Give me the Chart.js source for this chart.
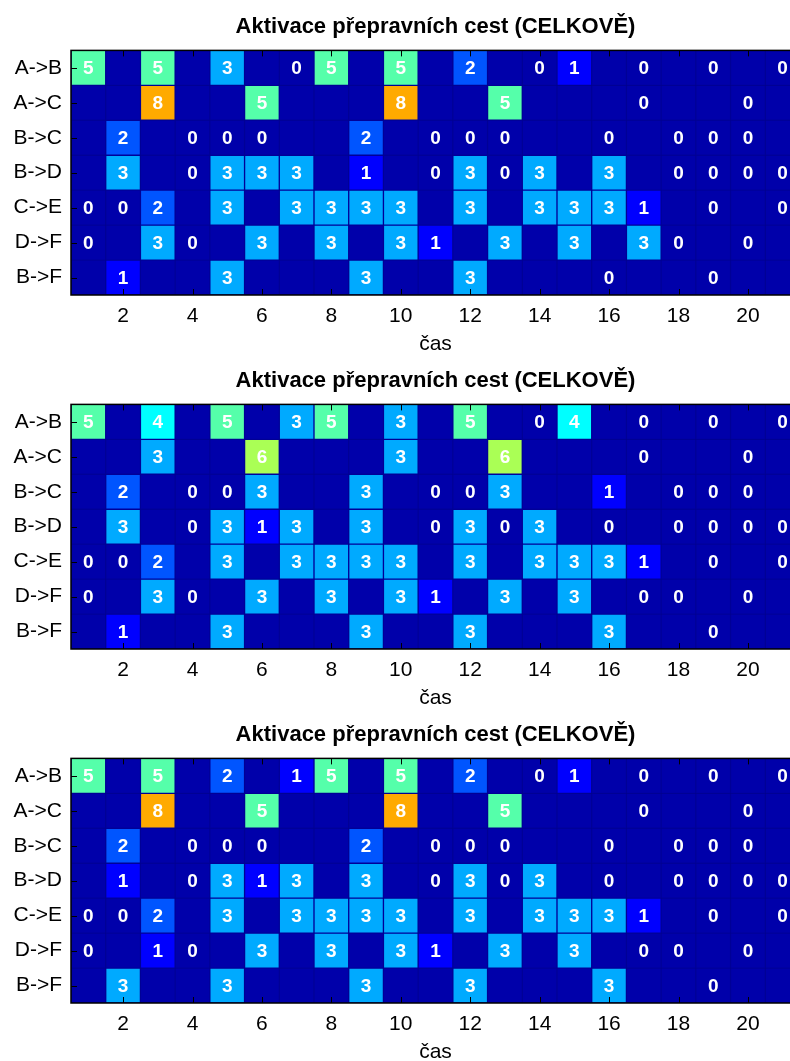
<!DOCTYPE html>
<html lang="cs">
<head>
<meta charset="utf-8">
<title>Aktivace přepravních cest</title>
<script src="https://cdn.jsdelivr.net/npm/chart.js@4.4.1/dist/chart.umd.min.js"></script>
<style>
  html, body { margin: 0; padding: 0; background: #fff; overflow: hidden; }
  .panel { width: 802px; height: 354px; }
  canvas { display: block; }
</style>
</head>
<body>
<div class="panel"><canvas id="g1" width="802" height="354"></canvas></div>
<div class="panel"><canvas id="g2" width="802" height="354"></canvas></div>
<div class="panel"><canvas id="g3" width="802" height="354"></canvas></div>
<script>
// popisky a osy
const titleText = "Aktivace přepravních cest (CELKOVĚ)";
const xTitle = "čas";
const routes = ["A->B", "A->C", "B->C", "B->D", "C->E", "D->F", "B->F"];
const times = [1, 2, 3, 4, 5, 6, 7, 8, 9, 10, 11, 12, 13, 14, 15, 16, 17, 18, 19, 20, 21];
const xTicks = [2, 4, 6, 8, 10, 12, 14, 16, 18, 20];

// barvy podle hodnoty 0..8 (jet)
const palette = ["#0000aa", "#0000ff", "#0055ff", "#00aaff", "#00ffff", "#55ffaa", "#aaff55", "#ffff00", "#ffaa00"];

const _ = null; // prázdná buňka

// hodnoty: řádek = cesta, sloupec = čas
const panel1 = [
    [5, _, 5, _, 3, _, 0, 5, _, 5, _, 2, _, 0, 1, _, 0, _, 0, _, 0],
    [_, _, 8, _, _, 5, _, _, _, 8, _, _, 5, _, _, _, 0, _, _, 0, _],
    [_, 2, _, 0, 0, 0, _, _, 2, _, 0, 0, 0, _, _, 0, _, 0, 0, 0, _],
    [_, 3, _, 0, 3, 3, 3, _, 1, _, 0, 3, 0, 3, _, 3, _, 0, 0, 0, 0],
    [0, 0, 2, _, 3, _, 3, 3, 3, 3, _, 3, _, 3, 3, 3, 1, _, 0, _, 0],
    [0, _, 3, 0, _, 3, _, 3, _, 3, 1, _, 3, _, 3, _, 3, 0, _, 0, _],
    [_, 1, _, _, 3, _, _, _, 3, _, _, 3, _, _, _, 0, _, _, 0, _, _]
];
const panel2 = [
    [5, _, 4, _, 5, _, 3, 5, _, 3, _, 5, _, 0, 4, _, 0, _, 0, _, 0],
    [_, _, 3, _, _, 6, _, _, _, 3, _, _, 6, _, _, _, 0, _, _, 0, _],
    [_, 2, _, 0, 0, 3, _, _, 3, _, 0, 0, 3, _, _, 1, _, 0, 0, 0, _],
    [_, 3, _, 0, 3, 1, 3, _, 3, _, 0, 3, 0, 3, _, 0, _, 0, 0, 0, 0],
    [0, 0, 2, _, 3, _, 3, 3, 3, 3, _, 3, _, 3, 3, 3, 1, _, 0, _, 0],
    [0, _, 3, 0, _, 3, _, 3, _, 3, 1, _, 3, _, 3, _, 0, 0, _, 0, _],
    [_, 1, _, _, 3, _, _, _, 3, _, _, 3, _, _, _, 3, _, _, 0, _, _]
];
const panel3 = [
    [5, _, 5, _, 2, _, 1, 5, _, 5, _, 2, _, 0, 1, _, 0, _, 0, _, 0],
    [_, _, 8, _, _, 5, _, _, _, 8, _, _, 5, _, _, _, 0, _, _, 0, _],
    [_, 2, _, 0, 0, 0, _, _, 2, _, 0, 0, 0, _, _, 0, _, 0, 0, 0, _],
    [_, 1, _, 0, 3, 1, 3, _, 3, _, 0, 3, 0, 3, _, 0, _, 0, 0, 0, 0],
    [0, 0, 2, _, 3, _, 3, 3, 3, 3, _, 3, _, 3, 3, 3, 1, _, 0, _, 0],
    [0, _, 1, 0, _, 3, _, 3, _, 3, 1, _, 3, _, 3, _, 0, 0, _, 0, _],
    [_, 3, _, _, 3, _, _, _, 3, _, _, 3, _, _, _, 3, _, _, 0, _, _]
];

Chart.defaults.font.family = "'Liberation Sans', Arial, sans-serif";
Chart.defaults.color = "#000";

// pozadí plochy grafu (stejná barva jako nula)
const areaFill = {
    id: "areaFill",
    beforeDatasetsDraw(chart) {
        const a = chart.chartArea;
        const ctx = chart.ctx;
        ctx.save();
        ctx.fillStyle = palette[0];
        ctx.fillRect(a.left, a.top, a.right - a.left, a.bottom - a.top);
        ctx.restore();
    }
};

// čísla v buňkách
const cellLabels = {
    id: "cellLabels",
    afterDatasetsDraw(chart) {
        const ctx = chart.ctx;
        ctx.save();
        ctx.font = "bold 19px 'Liberation Sans', Arial, sans-serif";
        ctx.fillStyle = "#fff";
        ctx.textAlign = "center";
        ctx.textBaseline = "middle";
        chart.data.datasets.forEach((ds, di) => {
            chart.getDatasetMeta(di).data.forEach((bar, i) => {
                const v = ds.data[i].v;
                if (v === null) return;
                const p = bar.getCenterPoint();
                ctx.fillText(String(v), p.x, p.y + 1);
            });
        });
        ctx.restore();
    }
};

// rámeček a značky dovnitř (jako v MATLABu)
const frame = {
    id: "frame",
    afterDraw(chart) {
        const { ctx, chartArea: a, scales: { x, y } } = chart;
        ctx.save();
        ctx.strokeStyle = "#000";
        ctx.lineWidth = 1.5;
        ctx.strokeRect(a.left, a.top, a.right - a.left, a.bottom - a.top);
        ctx.lineWidth = 1;
        ctx.beginPath();
        xTicks.forEach(v => {
            const px = Math.round(x.getPixelForValue(v)) + 0.5;
            ctx.moveTo(px, a.bottom);
            ctx.lineTo(px, a.bottom - 6);
            ctx.moveTo(px, a.top);
            ctx.lineTo(px, a.top + 6);
        });
        routes.forEach((r, i) => {
            const py = Math.round(y.getPixelForTick(i)) + 0.5;
            ctx.moveTo(a.left, py);
            ctx.lineTo(a.left + 6, py);
        });
        ctx.stroke();
        ctx.restore();
    }
};

function makeChart(id, cells) {
    const datasets = routes.map((route, r) => ({
        label: route,
        data: times.map((t, c) => ({ x: [t - 0.5, t + 0.5], y: route, v: cells[r][c] })),
        backgroundColor: cells[r].map(v => palette[v === null ? 0 : v]),
        borderColor: "rgba(0, 0, 90, 0.18)",
        borderWidth: 1,
        borderSkipped: false,
        grouped: false,
        barPercentage: 1,
        categoryPercentage: 1
    }));

    return new Chart(document.getElementById(id), {
        type: "bar",
        data: { labels: routes, datasets: datasets },
        options: {
            indexAxis: "y",
            responsive: false,
            animation: false,
            events: [],
            layout: { padding: { right: 2 } },
            plugins: {
                legend: { display: false },
                tooltip: { enabled: false },
                title: {
                    display: true,
                    text: titleText,
                    fullSize: false,
                    color: "#000",
                    font: { size: 22, weight: "bold" },
                    padding: { top: 14, bottom: 10 }
                }
            },
            scales: {
                x: {
                    type: "linear",
                    min: times[0] - 0.5,
                    max: times[times.length - 1] + 0.5,
                    afterBuildTicks: s => { s.ticks = xTicks.map(v => ({ value: v })); },
                    afterFit: s => { s.height = 59; },
                    grid: { display: false, drawTicks: false },
                    border: { display: false },
                    ticks: { color: "#000", font: { size: 21 }, padding: 9, maxRotation: 0 },
                    title: { display: true, text: xTitle, color: "#000", font: { size: 21 }, padding: { top: 0, bottom: -3 } }
                },
                y: {
                    afterFit: s => { s.width = 71; },
                    grid: { display: false, drawTicks: false },
                    border: { display: false },
                    ticks: { color: "#000", font: { size: 21 }, padding: 9 }
                }
            }
        },
        plugins: [areaFill, cellLabels, frame]
    });
}

makeChart("g1", panel1);
makeChart("g2", panel2);
makeChart("g3", panel3);
</script>
</body>
</html>
